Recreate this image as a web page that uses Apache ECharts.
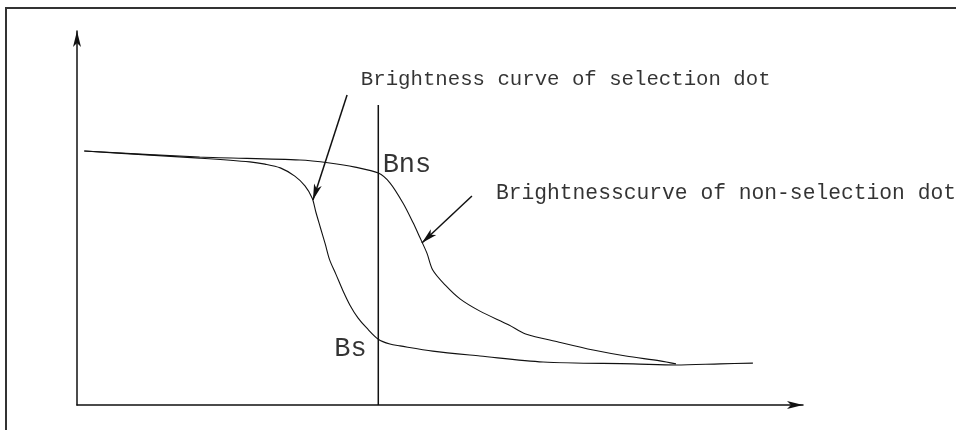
<!DOCTYPE html>
<html>
<head>
<meta charset="utf-8">
<script src="https://cdn.jsdelivr.net/npm/echarts@6/dist/echarts.min.js"></script>
<style>
    html,body{margin:0;padding:0;background:#fff;}
    #main{width:956px;height:430px;}
</style>
</head>
<body>
<div id="main"></div>
<script>
    // brightness curves, arbitrary units (x: voltage, y: brightness)
    var selectionCurve=[[0.10,6.79],[1.01,6.68],[1.69,6.60],[2.38,6.50],[2.59,6.44],[2.80,6.34],[3.00,6.12],[3.14,5.86],[3.24,5.53],[3.29,5.16],[3.35,4.76],[3.42,4.30],[3.48,3.88],[3.57,3.48],[3.66,3.07],[3.76,2.67],[3.87,2.33],[3.99,2.06],[4.15,1.76],[4.31,1.63],[4.45,1.58],[4.90,1.44],[5.55,1.31],[6.42,1.15],[7.66,1.10],[8.25,1.07],[8.86,1.10],[9.31,1.12]];
    var nonSelectionCurve=[[0.10,6.79],[1.69,6.63],[3.07,6.55],[3.48,6.47],[3.83,6.36],[4.15,6.20],[4.31,5.94],[4.49,5.40],[4.63,4.87],[4.72,4.49],[4.82,4.06],[4.90,3.61],[5.07,3.21],[5.28,2.83],[5.55,2.51],[5.95,2.14],[6.18,1.90],[6.64,1.68],[7.11,1.47],[7.56,1.31],[8.03,1.18],[8.25,1.10]];
    var markerLine=[[4.15,0],[4.15,8.02]];
    var pointerSel=[[3.72,8.29],[3.25,5.48]];
    var pointerNonSel=[[5.44,5.59],[4.75,4.33]];
    var labelTexts=['Brightness curve of selection dot','Brightnesscurve of non-selection dot','Bns','Bs'];
    var labelAnchors=[[3.91,8.69],[5.77,5.67],[4.21,6.42],[3.99,1.50]];

    var chart=echarts.init(document.getElementById('main'));
    var ink='#000';
    var mono='Liberation Mono';

    function textPoint(i,pos,size){
        return {
            value:labelAnchors[i],
            label:{
                show:true,
                position:pos,
                distance:0,
                formatter:labelTexts[i],
                fontFamily:mono,
                fontSize:size,
                color:ink
            }
        };
    }

    var option={
        animation:false,
        backgroundColor:'#fff',
        graphic:[{
            type:'rect',
            shape:{x:6,y:8,width:1000,height:500},
            style:{fill:'none',stroke:'#333',lineWidth:2}
        }],
        grid:{left:77,top:31,right:153,bottom:25},
        xAxis:{
            type:'value',min:0,max:10,
            axisLine:{show:true,symbol:['none','arrow'],symbolSize:[6,16],lineStyle:{color:'#111',width:1.5}},
            axisTick:{show:false},axisLabel:{show:false},splitLine:{show:false}
        },
        yAxis:{
            type:'value',min:0,max:10,
            axisLine:{show:true,symbol:['none','arrow'],symbolSize:[6,16],lineStyle:{color:'#111',width:1.5}},
            axisTick:{show:false},axisLabel:{show:false},splitLine:{show:false}
        },
        series:[
            {
                name:'selection',type:'line',data:selectionCurve,smooth:0.3,
                showSymbol:false,lineStyle:{color:'#111',width:1.1}
            },
            {
                name:'non-selection',type:'line',data:nonSelectionCurve,smooth:0.3,
                showSymbol:false,lineStyle:{color:'#111',width:1.1}
            },
            {
                name:'marker',type:'line',data:markerLine,
                showSymbol:false,lineStyle:{color:'#111',width:1.5},
                markLine:{
                    silent:true,
                    symbol:['none','arrow'],
                    symbolSize:[6,16],
                    label:{show:false},
                    lineStyle:{color:'#111',width:1.5,type:'solid'},
                    data:[
                        [{coord:pointerSel[0]},{coord:pointerSel[1]}],
                        [{coord:pointerNonSel[0]},{coord:pointerNonSel[1]}]
                    ]
                }
            },
            {
                name:'labels',type:'scatter',symbolSize:0,silent:true,
                data:[
                    textPoint(0,'right',20.7),
                    textPoint(1,'right',21.3),
                    textPoint(2,'right',27),
                    textPoint(3,'left',27)
                ]
            }
        ]
    };
    chart.setOption(option);
</script>
</body>
</html>
